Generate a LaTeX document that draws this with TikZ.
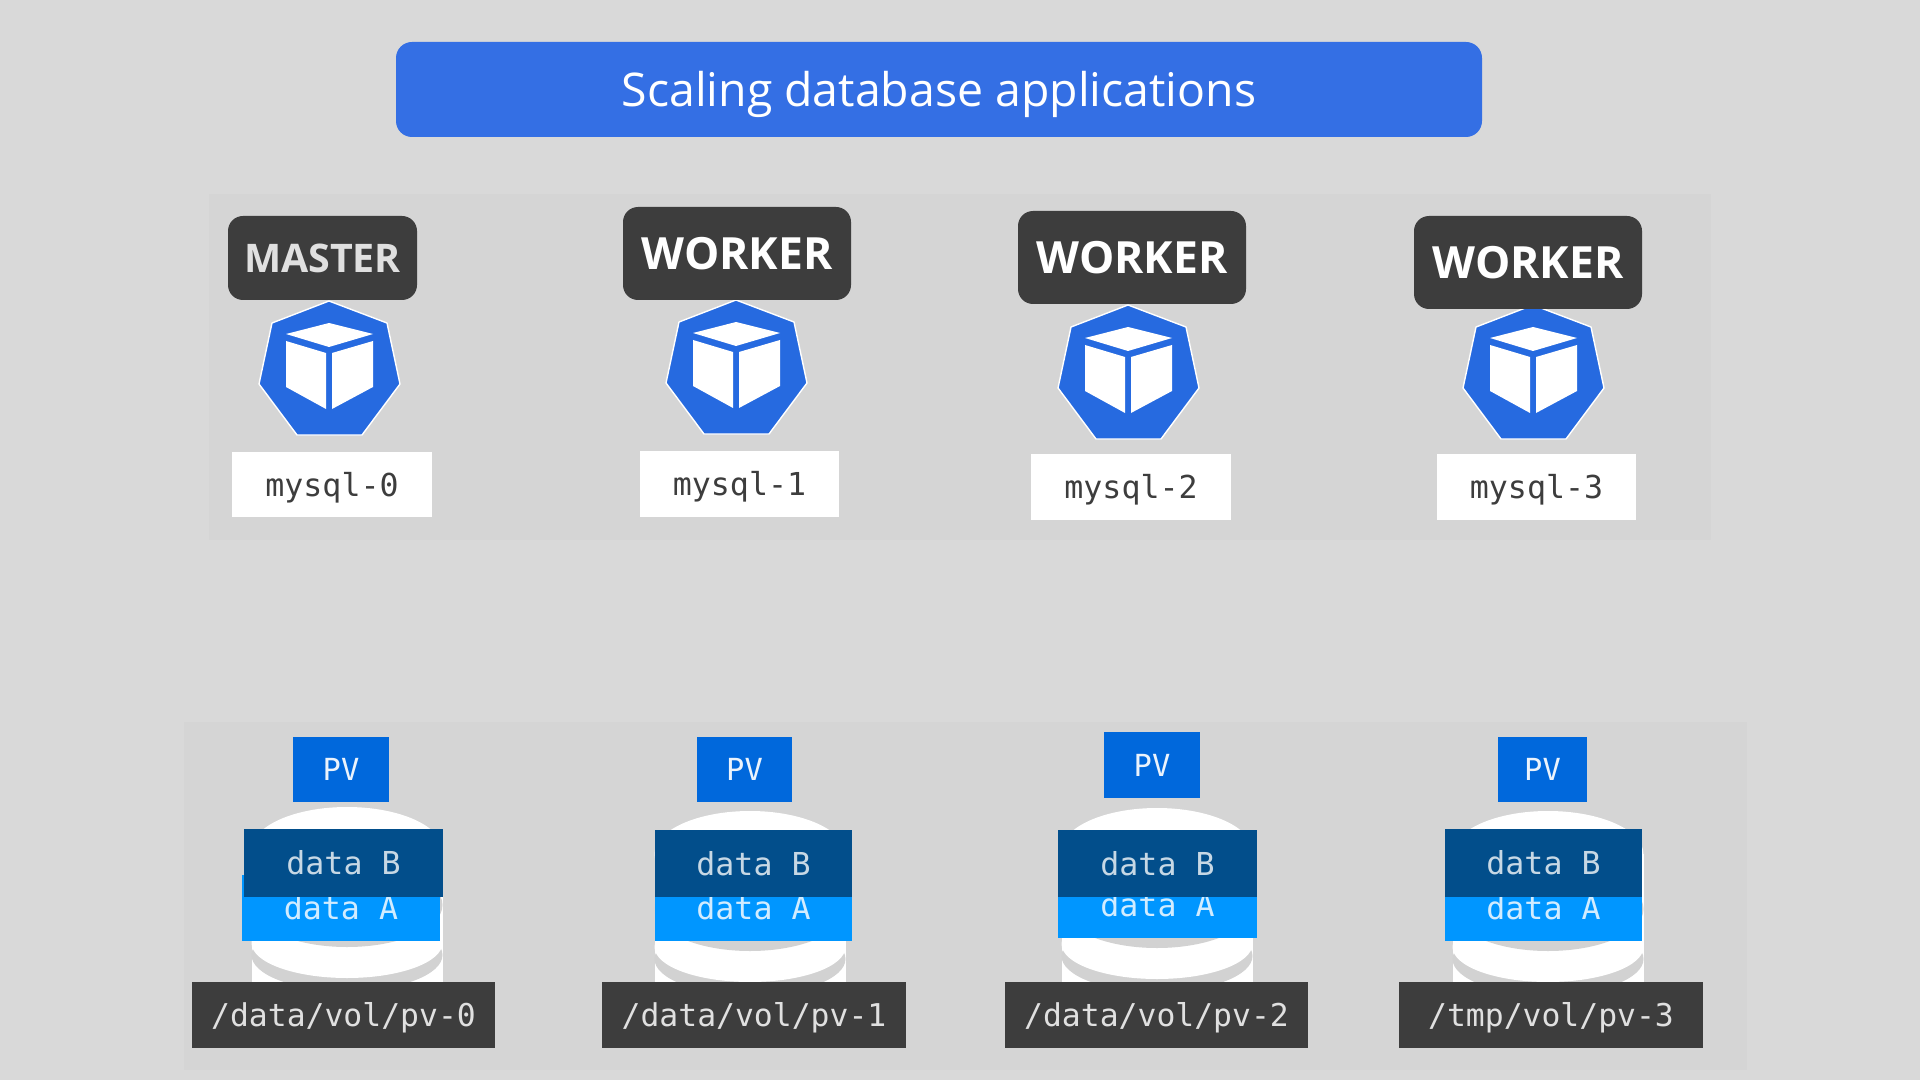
\documentclass[tikz,border=0pt]{standalone}
\usepackage{fontspec}
\setmainfont{Open Sans}
\setmonofont{DejaVu Sans Mono}
\definecolor{bgc}{HTML}{D9D9D9}
\definecolor{panelc}{HTML}{D5D5D5}
\definecolor{titlec}{HTML}{346FE4}
\definecolor{darkc}{HTML}{3D3D3D}
\definecolor{kubec}{HTML}{266AE0}
\definecolor{pvc}{HTML}{0068DC}
\definecolor{datab}{HTML}{024E8B}
\definecolor{dataa}{HTML}{0096FF}
\definecolor{disk}{HTML}{D2D2D2}
\tikzset{
  x=0.5pt,y=-0.5pt,
  base/.style={inner sep=0pt,outer sep=0pt,anchor=center,align=center},
  titlebox/.style={base,fill=titlec,rounded corners=8pt,text=white,text height=16.9pt,text depth=0pt,font=\fontsize{23.2}{25}\selectfont},
  rolebox/.style={base,fill=darkc,rounded corners=7.5pt,text=white,text height=16.2pt,text depth=0pt,font=\fontsize{22.2}{24}\selectfont\bfseries},
  masterbox/.style={base,fill=darkc,rounded corners=7.5pt,text=white!88!black,text height=14.4pt,text depth=0pt,font=\fontsize{19.7}{21}\selectfont\bfseries},
  podbox/.style={base,fill=white,text=darkc,text height=11.6pt,text depth=0pt,font=\fontsize{15.8}{17}\ttfamily},
  pvbox/.style={base,fill=pvc,text=white!92!pvc,text height=11.4pt,text depth=0pt,font=\fontsize{15.2}{17}\ttfamily},
  bbox/.style={base,fill=datab,text=white!78!datab,text height=11.6pt,text depth=0pt,font=\fontsize{15.8}{17}\ttfamily},
  abox/.style={base,fill=dataa,text=white!82!dataa,text height=11.6pt,text depth=0pt,font=\fontsize{15.8}{17}\ttfamily},
  pathbox/.style={base,fill=darkc,text=white!88!black,text height=11.6pt,text depth=0pt,font=\fontsize{15.7}{17}\ttfamily},
  hept/.style={fill=kubec,draw=white,line width=0.7pt,line join=round},
  cubeface/.style={fill=white},
}
% name, style, x1, y1, x2, y2, text
\newcommand{\pxbox}[7]{%
  \pgfmathsetmacro{\mw}{(#5-#3)*0.5}%
  \pgfmathsetmacro{\mh}{(#6-#4)*0.5}%
  \node[#2,minimum width=\mw pt,minimum height=\mh pt] (#1) at ({(#3+#5)/2},{(#4+#6)/2}) {#7};}
% name prefix, top vertex x, y
\newcommand{\kubeicon}[3]{%
  \begin{scope}[shift={(#2,#3)}]
    \draw[hept] (0,0) -- (58,22) -- (71,83) -- (33,134) -- (-32,134) -- (-70,83) -- (-57,22) -- cycle;
    \fill[cubeface] (0,22) -- (44,33) -- (0,46) -- (-43,33) -- cycle;
    \fill[cubeface] (-43,40) -- (-3,52) -- (-3,108) -- (-43,86) -- cycle;
    \fill[cubeface] (3,52) -- (44,40) -- (44,86) -- (3,108) -- cycle;
    \coordinate (#1) at (0,67);
  \end{scope}}
% centre x, shift y
\newcommand{\cylinder}[2]{%
  \begin{scope}[shift={(#1,#2)}]
    \fill[white] (0,850) ellipse [x radius=95.5,y radius=43];
    \fill[white] (-95.5,850) rectangle (95.5,982-#2);
    \fill[disk] (0,955) ellipse [x radius=95.5,y radius=36];
    \fill[white] (0,943) ellipse [x radius=95.5,y radius=35];
    \fill[disk] (0,905) ellipse [x radius=95.5,y radius=42];
  \end{scope}}
\begin{document}
\begin{tikzpicture}
\useasboundingbox (0,0) rectangle (1920,1080);
\fill[bgc] (0,0) rectangle (1920,1080);
\fill[panelc] (209,194) rectangle (1711,540);
\fill[panelc] (184,722) rectangle (1747,1070);

\pxbox{title}{titlebox}{396}{42}{1482}{137}{Scaling database applications}

\kubeicon{pod0}{329}{301}
\kubeicon{pod1}{736}{300}
\kubeicon{pod2}{1128}{305}
\kubeicon{pod3}{1533}{305}

\pxbox{role0}{masterbox}{228}{216}{417}{300}{MASTER}
\pxbox{role1}{rolebox}{623}{207}{851}{300}{WORKER}
\pxbox{role2}{rolebox}{1018}{211}{1246}{304}{WORKER}
\pxbox{role3}{rolebox}{1414}{216}{1642}{309}{WORKER}

\pxbox{name0}{podbox}{232}{452}{432}{517}{mysql-0}
\pxbox{name1}{podbox}{640}{451}{839}{517}{mysql-1}
\pxbox{name2}{podbox}{1031}{454}{1231}{520}{mysql-2}
\pxbox{name3}{podbox}{1437}{454}{1636}{520}{mysql-3}

\cylinder{347}{0}
\cylinder{750}{4}
\cylinder{1157}{1}
\cylinder{1548}{4}

\pxbox{pv0}{pvbox}{293}{737}{389}{802}{PV}
\pxbox{pv1}{pvbox}{697}{737}{792}{802}{PV}
\pxbox{pv2}{pvbox}{1104}{732}{1200}{798}{PV}
\pxbox{pv3}{pvbox}{1498}{737}{1587}{802}{PV}

\pxbox{a0}{abox}{242}{875}{440}{941}{data A}
\pxbox{b0}{bbox}{244}{829}{443}{897}{data B}
\pxbox{a1}{abox}{655}{875}{852}{941}{data A}
\pxbox{b1}{bbox}{655}{830}{852}{897}{data B}
\pxbox{a2}{abox}{1058}{872}{1257}{938}{data A}
\pxbox{b2}{bbox}{1058}{830}{1257}{897}{data B}
\pxbox{a3}{abox}{1445}{875}{1642}{941}{data A}
\pxbox{b3}{bbox}{1445}{829}{1642}{897}{data B}

\pxbox{path0}{pathbox}{192}{982}{495}{1048}{/data/vol/pv-0}
\pxbox{path1}{pathbox}{602}{982}{906}{1048}{/data/vol/pv-1}
\pxbox{path2}{pathbox}{1005}{982}{1308}{1048}{/data/vol/pv-2}
\pxbox{path3}{pathbox}{1399}{982}{1703}{1048}{/tmp/vol/pv-3}
\end{tikzpicture}
\end{document}
